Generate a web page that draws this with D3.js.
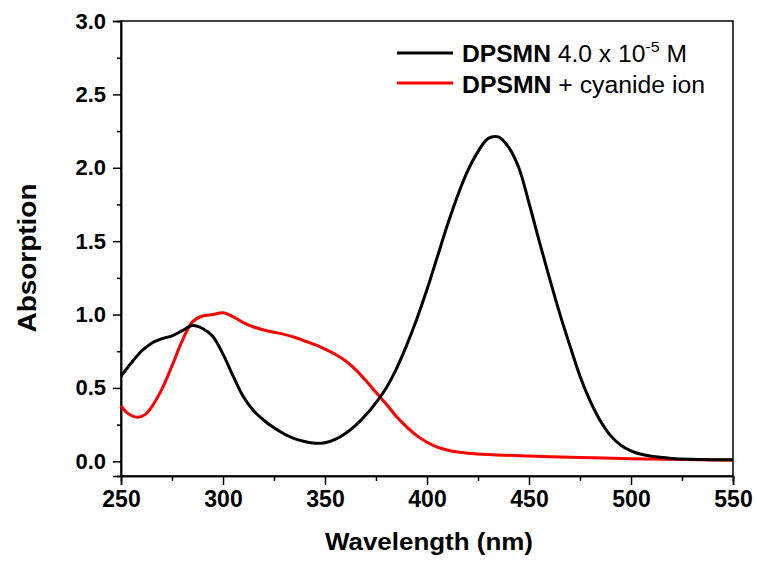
<!DOCTYPE html>
<html>
<head>
<meta charset="utf-8">
<script src="https://cdn.jsdelivr.net/npm/d3@7"></script>
<style>
  body { margin: 0; background: #fff; }
  svg { font-family: Arial, "Liberation Sans", sans-serif; }
</style>
</head>
<body>
<svg id="chart" width="757" height="566"></svg>
<script>
// spectra: [wavelength nm, absorption]
let dpsmn = [
  [250, 0.58], [255, 0.67], [260, 0.75], [265, 0.805], [270, 0.835], [275, 0.855],
  [280, 0.89], [285, 0.925], [290, 0.905], [295, 0.85], [300, 0.73], [305, 0.58],
  [310, 0.44], [315, 0.345], [320, 0.28], [325, 0.228], [330, 0.186], [335, 0.155],
  [340, 0.135], [345, 0.123], [350, 0.127], [355, 0.15], [360, 0.19], [365, 0.245],
  [370, 0.315], [375, 0.40], [380, 0.50], [385, 0.63], [390, 0.79], [395, 0.97],
  [400, 1.17], [405, 1.39], [410, 1.61], [415, 1.81], [420, 1.98], [425, 2.11],
  [430, 2.20], [435, 2.21], [440, 2.14], [445, 2.00], [450, 1.76], [455, 1.50],
  [460, 1.25], [465, 1.01], [470, 0.79], [475, 0.58], [480, 0.41], [485, 0.275],
  [490, 0.175], [495, 0.11], [500, 0.072], [505, 0.048], [510, 0.034], [520, 0.02],
  [530, 0.014], [540, 0.011], [550, 0.01]
];

let dpsmnCyanide = [
  [250, 0.38], [253, 0.33], [258, 0.30], [262, 0.32], [265, 0.37], [270, 0.49],
  [275, 0.65], [280, 0.82], [285, 0.95], [290, 0.99], [295, 1.0], [300, 1.012],
  [305, 0.985], [310, 0.945], [315, 0.915], [320, 0.895], [325, 0.88], [330, 0.865],
  [335, 0.845], [340, 0.82], [345, 0.795], [350, 0.765], [355, 0.73], [360, 0.685],
  [365, 0.625], [370, 0.55], [375, 0.47], [380, 0.39], [385, 0.305], [390, 0.235],
  [395, 0.175], [400, 0.13], [405, 0.097], [410, 0.077], [415, 0.063], [420, 0.055],
  [430, 0.046], [450, 0.036], [470, 0.028], [500, 0.018], [525, 0.012], [550, 0.008]
];

let xTicks = [250, 300, 350, 400, 450, 500, 550];
let xMinor = [275, 325, 375, 425, 475, 525];
let yTicks = [0, 0.5, 1.0, 1.5, 2.0, 2.5, 3.0];
let yMinor = [0.25, 0.75, 1.25, 1.75, 2.25, 2.75];

let plotLeft = 121, plotRight = 733, plotTop = 21, plotBottom = 476;

let svg = d3.select('#chart');

let x = d3.scaleLinear().domain([250, 550]).range([plotLeft, plotRight]);
let y = d3.scaleLinear().domain([-0.1, 3.0]).range([plotBottom, plotTop]);

// frame
svg.append('rect')
  .attr('x', plotLeft).attr('y', plotTop)
  .attr('width', plotRight - plotLeft).attr('height', plotBottom - plotTop)
  .attr('fill', 'none').attr('stroke', '#000').attr('stroke-width', 1.5);

// bottom axis
let xAxis = svg.append('g').attr('transform', 'translate(0,' + plotBottom + ')')
  .call(d3.axisBottom(x).tickValues(xTicks).tickSize(9).tickPadding(6).tickFormat(d3.format('d')));
svg.append('g').attr('transform', 'translate(0,' + plotBottom + ')')
  .call(d3.axisBottom(x).tickValues(xMinor).tickSize(5).tickFormat(''));

// left axis
let yAxis = svg.append('g').attr('transform', 'translate(' + plotLeft + ',0)')
  .call(d3.axisLeft(y).tickValues(yTicks).tickSize(8).tickPadding(7).tickFormat(d3.format('.1f')));
svg.append('g').attr('transform', 'translate(' + plotLeft + ',0)')
  .call(d3.axisLeft(y).tickValues(yMinor).tickSize(4).tickFormat(''));

svg.selectAll('.domain').attr('stroke-width', 1.5);
svg.selectAll('.tick line').attr('stroke-width', 1.5);
xAxis.selectAll('text').attr('font-size', 23).attr('font-weight', 'bold').attr('fill', '#000');
yAxis.selectAll('text').attr('font-size', 22).attr('font-weight', 'bold').attr('fill', '#000');

// curves
let line = d3.line()
  .x(d => x(d[0]))
  .y(d => y(d[1]))
  .curve(d3.curveCatmullRom.alpha(0.5));

svg.append('path').datum(dpsmnCyanide)
  .attr('d', line).attr('fill', 'none')
  .attr('stroke', '#ff0000').attr('stroke-width', 3);

svg.append('path').datum(dpsmn)
  .attr('d', line).attr('fill', 'none')
  .attr('stroke', '#000').attr('stroke-width', 3);

// axis titles
svg.append('text')
  .attr('x', 429).attr('y', 550)
  .attr('text-anchor', 'middle')
  .attr('font-size', 24).attr('font-weight', 'bold')
  .attr('textLength', 208).attr('lengthAdjust', 'spacingAndGlyphs')
  .text('Wavelength (nm)');

svg.append('text')
  .attr('transform', 'translate(36,258) rotate(-90)')
  .attr('text-anchor', 'middle')
  .attr('font-size', 26).attr('font-weight', 'bold')
  .attr('textLength', 149).attr('lengthAdjust', 'spacingAndGlyphs')
  .text('Absorption');

// legend
let legend = svg.append('g');
legend.append('line')
  .attr('x1', 397).attr('x2', 453).attr('y1', 53).attr('y2', 53)
  .attr('stroke', '#000').attr('stroke-width', 3);
legend.append('line')
  .attr('x1', 397).attr('x2', 453).attr('y1', 83).attr('y2', 83)
  .attr('stroke', '#ff0000').attr('stroke-width', 3);

let t1 = legend.append('text').attr('x', 462).attr('y', 62).attr('font-size', 23)
  .attr('textLength', 225).attr('lengthAdjust', 'spacingAndGlyphs');
t1.append('tspan').attr('font-weight', 'bold').text('DPSMN');
t1.append('tspan').text(' 4.0 x 10');
t1.append('tspan').attr('font-size', 15).attr('dy', -10).text('-5');
t1.append('tspan').attr('dy', 10).text(' M');

let t2 = legend.append('text').attr('x', 462).attr('y', 93).attr('font-size', 23)
  .attr('textLength', 243).attr('lengthAdjust', 'spacingAndGlyphs');
t2.append('tspan').attr('font-weight', 'bold').text('DPSMN');
t2.append('tspan').text(' + cyanide ion');
</script>
</body>
</html>
